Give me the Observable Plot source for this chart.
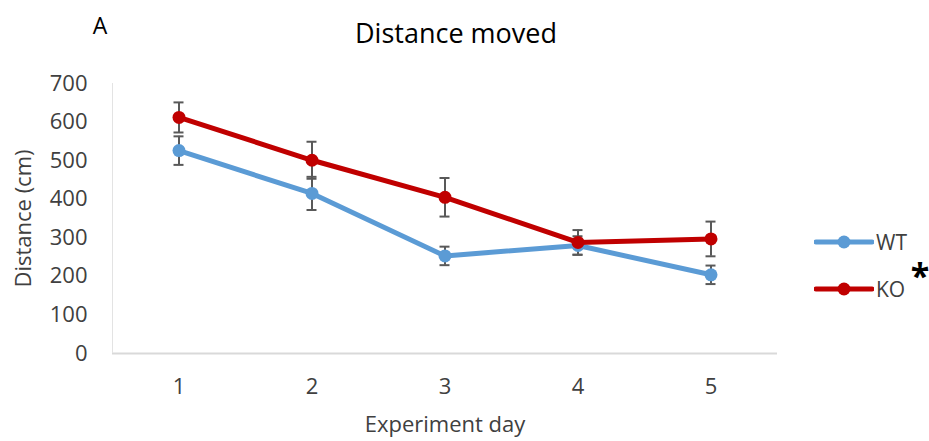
<!DOCTYPE html>
<html>
<head>
<meta charset="utf-8">
<script src="https://cdn.jsdelivr.net/npm/d3@7"></script>
<script src="https://cdn.jsdelivr.net/npm/@observablehq/plot@0.6"></script>
<style>
  html, body { margin: 0; padding: 0; background: #fff; }
  #wrap { position: relative; width: 929px; height: 441px; font-family: "Open Sans", sans-serif; overflow: hidden; }
  #wrap svg { position: absolute; left: 0; top: 0; }
  .abs { position: absolute; white-space: nowrap; line-height: 1; }
</style>
</head>
<body>
<div id="wrap"></div>
<script>
// ---- data ----
const days = [1, 2, 3, 4, 5];
const wt = [526, 415, 253, 280, 204];
const wtErr = [37, 43, 24, 24, 24];
const ko = [612, 501, 405, 288, 297];
const koErr = [39, 48, 50, 32, 45];
const seriesNames = ["WT", "KO"];
const seriesColors = ["#5b9bd5", "#c00000"];
const yTicks = [0, 100, 200, 300, 400, 500, 600, 700];
const titleText = "Distance moved";
const panelLetter = "A";
const xLabel = "Experiment day";
const yLabel = "Distance (cm)";

const rows = [];
days.forEach((d, i) => rows.push({day: d, series: "WT", value: wt[i], err: wtErr[i]}));
days.forEach((d, i) => rows.push({day: d, series: "KO", value: ko[i], err: koErr[i]}));
const wtRows = rows.filter(r => r.series === "WT");
const koRows = rows.filter(r => r.series === "KO");

const errColor = "#595959";
const capInset = 61.5;

const chart = Plot.plot({
  width: 929,
  height: 441,
  marginLeft: 112,
  marginRight: 152,
  marginTop: 83,
  marginBottom: 88,
  style: {fontFamily: "Open Sans, sans-serif", fontSize: "22px", color: "#404040", background: "transparent"},
  x: {type: "band", domain: days, padding: 0},
  y: {domain: [0, 700]},
  marks: [
    Plot.ruleY([0], {stroke: "#d9d9d9", strokeWidth: 2}),
    Plot.ruleX([days[0]], {stroke: "#e3e3e3", strokeWidth: 1, dx: -66.5}),
    Plot.axisX({tickSize: 0, tickPadding: 25, fontSize: 22, label: xLabel, labelAnchor: "center", labelOffset: 78, labelArrow: "none"}),
    Plot.axisY({ticks: yTicks, tickSize: 0, tickPadding: 25, fontSize: 22, label: yLabel, labelAnchor: "center", labelOffset: 97, labelArrow: "none"}),
    // error bars
    Plot.ruleX(rows, {x: "day", y1: d => d.value - d.err, y2: d => d.value + d.err, stroke: errColor, strokeWidth: 2}),
    Plot.tickY(rows, {x: "day", y: d => d.value + d.err, stroke: errColor, strokeWidth: 2, insetLeft: capInset, insetRight: capInset}),
    Plot.tickY(rows, {x: "day", y: d => d.value - d.err, stroke: errColor, strokeWidth: 2, insetLeft: capInset, insetRight: capInset}),
    // WT
    Plot.line(wtRows, {x: "day", y: "value", stroke: seriesColors[0], strokeWidth: 5}),
    Plot.dot(wtRows, {x: "day", y: "value", fill: seriesColors[0], r: 6.5}),
    // KO
    Plot.line(koRows, {x: "day", y: "value", stroke: seriesColors[1], strokeWidth: 5}),
    Plot.dot(koRows, {x: "day", y: "value", fill: seriesColors[1], r: 6.5})
  ]
});

const wrap = document.getElementById("wrap");
wrap.appendChild(chart);

function addText(txt, left, top, size, color, extra) {
  const el = document.createElement("div");
  el.className = "abs";
  el.textContent = txt;
  el.style.left = left + "px";
  el.style.top = top + "px";
  el.style.fontSize = size + "px";
  el.style.color = color;
  if (extra) Object.assign(el.style, extra);
  wrap.appendChild(el);
  return el;
}

// title and panel letter
addText(titleText, 456, 32, 27, "#000", {transform: "translate(-50%, -50%)"});
addText(panelLetter, 100, 25, 23, "#000", {transform: "translate(-50%, -50%)"});

// legend
const legendYs = [242, 289];
seriesNames.forEach((name, i) => {
  const y = legendYs[i];
  const svgNS = "http://www.w3.org/2000/svg";
  const s = document.createElementNS(svgNS, "svg");
  s.setAttribute("width", 60);
  s.setAttribute("height", 16);
  s.style.position = "absolute";
  s.style.left = "814px";
  s.style.top = (y - 8) + "px";
  const ln = document.createElementNS(svgNS, "line");
  ln.setAttribute("x1", 2); ln.setAttribute("x2", 58);
  ln.setAttribute("y1", 8); ln.setAttribute("y2", 8);
  ln.setAttribute("stroke", seriesColors[i]);
  ln.setAttribute("stroke-width", 5);
  ln.setAttribute("stroke-linecap", "round");
  s.appendChild(ln);
  const c = document.createElementNS(svgNS, "circle");
  c.setAttribute("cx", 30); c.setAttribute("cy", 8); c.setAttribute("r", 6.5);
  c.setAttribute("fill", seriesColors[i]);
  s.appendChild(c);
  wrap.appendChild(s);
  addText(name, 876, y, 21, "#404040", {transform: "translateY(-50%)"});
});
addText("*", 920, 275, 34, "#000", {transform: "translate(-50%, -50%)", fontWeight: "bold"});
</script>
</body>
</html>
